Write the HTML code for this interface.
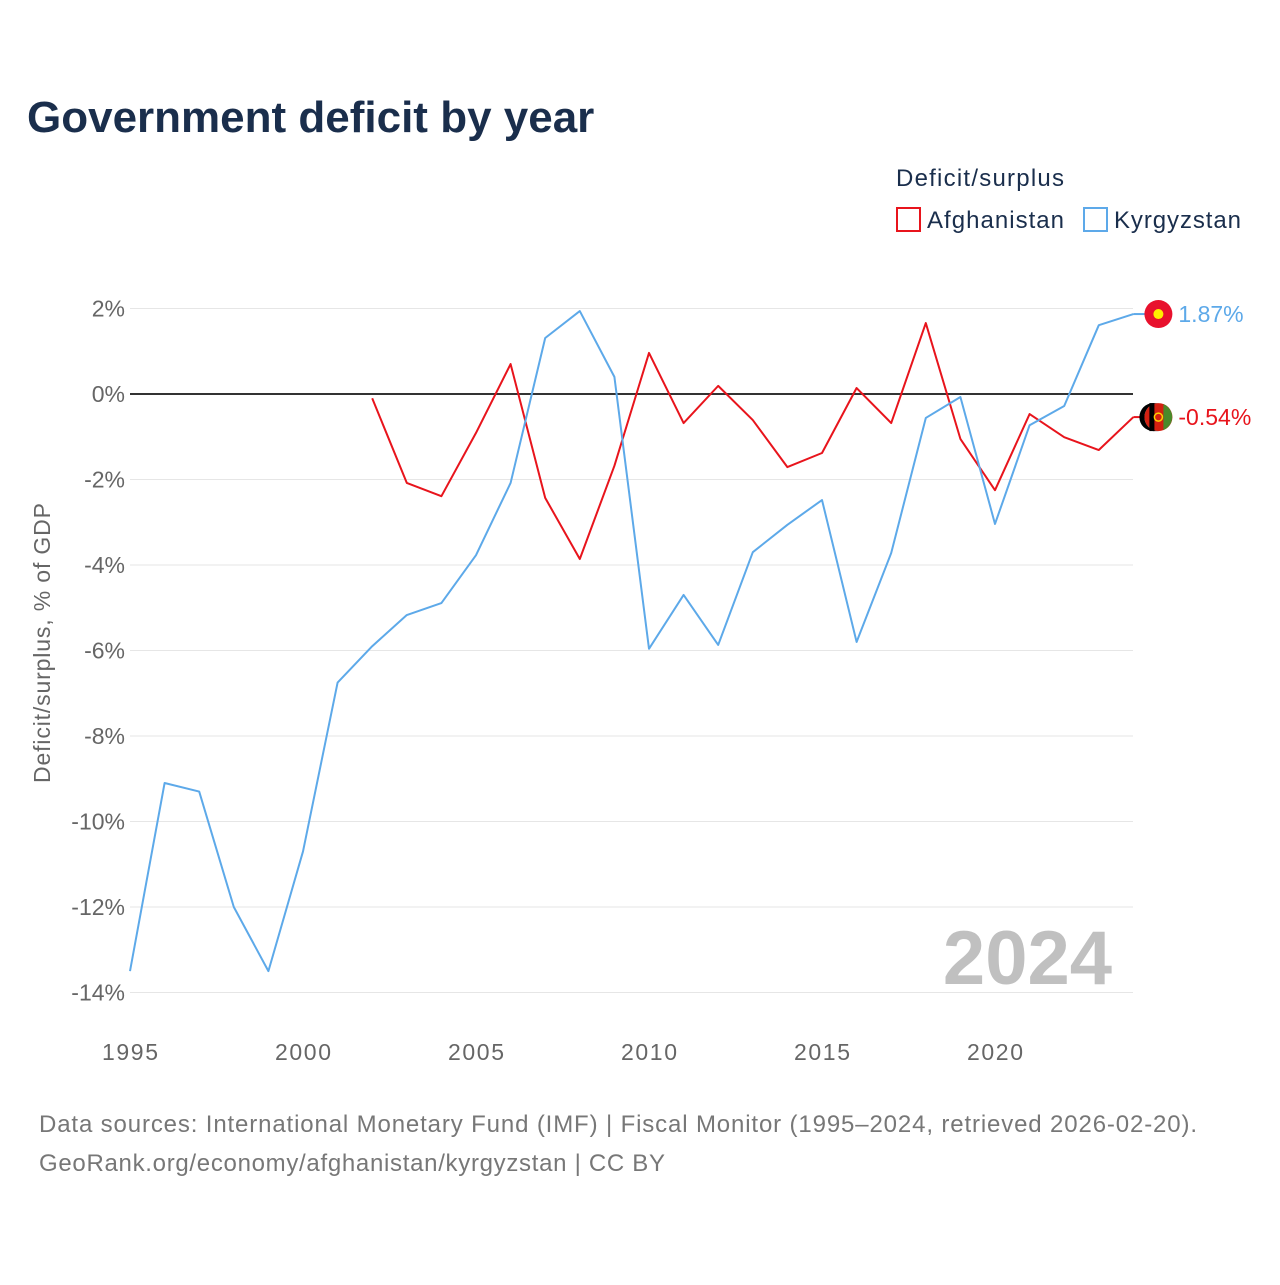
<!DOCTYPE html>
<html><head><meta charset="utf-8">
<style>
body{margin:0;background:#fff;font-family:"Liberation Sans",sans-serif;}
svg text{font-family:"Liberation Sans",sans-serif;}
</style></head>
<body>
<svg width="1280" height="1280" viewBox="0 0 1280 1280" xmlns="http://www.w3.org/2000/svg" id="chart">
<text x="27" y="132" font-size="44" font-weight="bold" fill="#1a2e4c">Government deficit by year</text>
<text x="896" y="186" font-size="24" fill="#1a2e4c" textLength="168">Deficit/surplus</text>
<g>
<rect x="897" y="208" width="23" height="23" fill="#fff" stroke="#e8141c" stroke-width="2"/>
<text x="927" y="228" font-size="24" fill="#1a2e4c" textLength="137">Afghanistan</text></g>
<g>
<rect x="1084" y="208" width="23" height="23" fill="#fff" stroke="#5da9e9" stroke-width="2"/>
<text x="1114" y="228" font-size="24" fill="#1a2e4c" textLength="127">Kyrgyzstan</text></g>
<text transform="translate(50,643) rotate(-90)" text-anchor="middle" font-size="23" fill="#666" textLength="280">Deficit/surplus, % of GDP</text>
<g id="grid"></g>
<g id="xt"></g>
<text x="1112" y="984" text-anchor="end" font-size="76" font-weight="bold" fill="#c0c0c0">2024</text>
<g id="series"></g>
<text x="39" y="1132" font-size="24" fill="#777" textLength="1158">Data sources: International Monetary Fund (IMF) | Fiscal Monitor (1995–2024, retrieved 2026-02-20).</text>
<text x="39" y="1171" font-size="24" fill="#777" textLength="626">GeoRank.org/economy/afghanistan/kyrgyzstan | CC BY</text>
</svg>
<script>
const years = [1995,1996,1997,1998,1999,2000,2001,2002,2003,2004,2005,2006,2007,2008,2009,2010,2011,2012,2013,2014,2015,2016,2017,2018,2019,2020,2021,2022,2023,2024];
const kyrgyzstan = [-13.5,-9.1,-9.3,-12.0,-13.5,-10.7,-6.75,-5.9,-5.17,-4.89,-3.77,-2.08,1.31,1.94,0.40,-5.96,-4.70,-5.87,-3.70,-3.06,-2.48,-5.80,-3.72,-0.56,-0.07,-3.04,-0.73,-0.28,1.61,1.87];
const afghanistan = [null,null,null,null,null,null,null,-0.1,-2.08,-2.39,-0.91,0.70,-2.43,-3.86,-1.68,0.96,-0.68,0.19,-0.61,-1.71,-1.38,0.14,-0.68,1.66,-1.05,-2.25,-0.47,-1.01,-1.31,-0.54];
const yTicks = [2,0,-2,-4,-6,-8,-10,-12,-14];
const xTicks = [1995,2000,2005,2010,2015,2020];
const NS="http://www.w3.org/2000/svg";
const X=y=>130+(y-1995)*34.6;
const Y=v=>394-v*42.75;
function mk(t,a,p){const e=document.createElementNS(NS,t);for(const k in a)e.setAttribute(k,a[k]);p.appendChild(e);return e;}
const grid=document.getElementById('grid');
yTicks.forEach(v=>{
 const l=mk('line',{x1:130,x2:1133,y1:Y(v),y2:Y(v),stroke:v===0?'#333':'#e6e6e6','stroke-width':v===0?2:1},grid);
 
 
 const t=mk('text',{x:125,y:Y(v)+8,'text-anchor':'end','font-size':23,fill:'#666'},grid);
 t.textContent=v+'%';
 
 
});
const xt=document.getElementById('xt');
xTicks.forEach(y=>{
 const t=mk('text',{x:X(y),y:1060,'text-anchor':'middle','font-size':23,fill:'#666',textLength:56},xt);
 t.textContent=y;
 
 
});
const s=document.getElementById('series');
function line(data,color,name){
 let d='';data.forEach((v,i)=>{if(v===null)return;d+=(d?'L':'M')+X(years[i])+','+Y(v);});
 const p=mk('path',{d:d,fill:'none',stroke:color,'stroke-width':2,'stroke-linejoin':'round'},s);
 
 
}
line(afghanistan,'#e8141c','afghanistan-line');
line(kyrgyzstan,'#5da9e9','kyrgyzstan-line');
function endLabel(data,color,name,flag){
 const v=data[data.length-1],x=X(years[years.length-1]),y=Y(v);
 mk('line',{x1:x,x2:x+12,y1:y,y2:y,stroke:color,'stroke-width':2},s);
 const g=mk('g',{},s);
 
 
 if(flag==='kg'){
  mk('circle',{cx:x+25,cy:y,r:14,fill:'#e8112d'},g);
  mk('circle',{cx:x+25,cy:y,r:5,fill:'#ffef00'},g);
 }else{
  mk('circle',{cx:x+25,cy:y,r:14,fill:'#d32011'},g);
  mk('path',{d:`M${x+25},${y-14}a14,14 0 0,0 0,28h-5a14,14 0 0,1 0,-28z`,fill:'#000'},g);
  mk('rect',{x:x+16,y:y-14,width:5,height:28,fill:'#000'},g);
  mk('path',{d:`M${x+30},${y-13}a14,14 0 0,1 0,26z`,fill:'#4a8a2a'},g);
  mk('circle',{cx:x+25,cy:y,r:4,fill:'none',stroke:'#ffd200','stroke-width':1.5},g);
 }
 const t=mk('text',{x:x+45,y:y+8,'font-size':23,fill:color},s);
 t.textContent=v.toFixed(2)+'%';
 
 
}
endLabel(kyrgyzstan,'#5da9e9','kyrgyzstan','kg');
endLabel(afghanistan,'#e8141c','afghanistan','af');
</script>
</body></html>
